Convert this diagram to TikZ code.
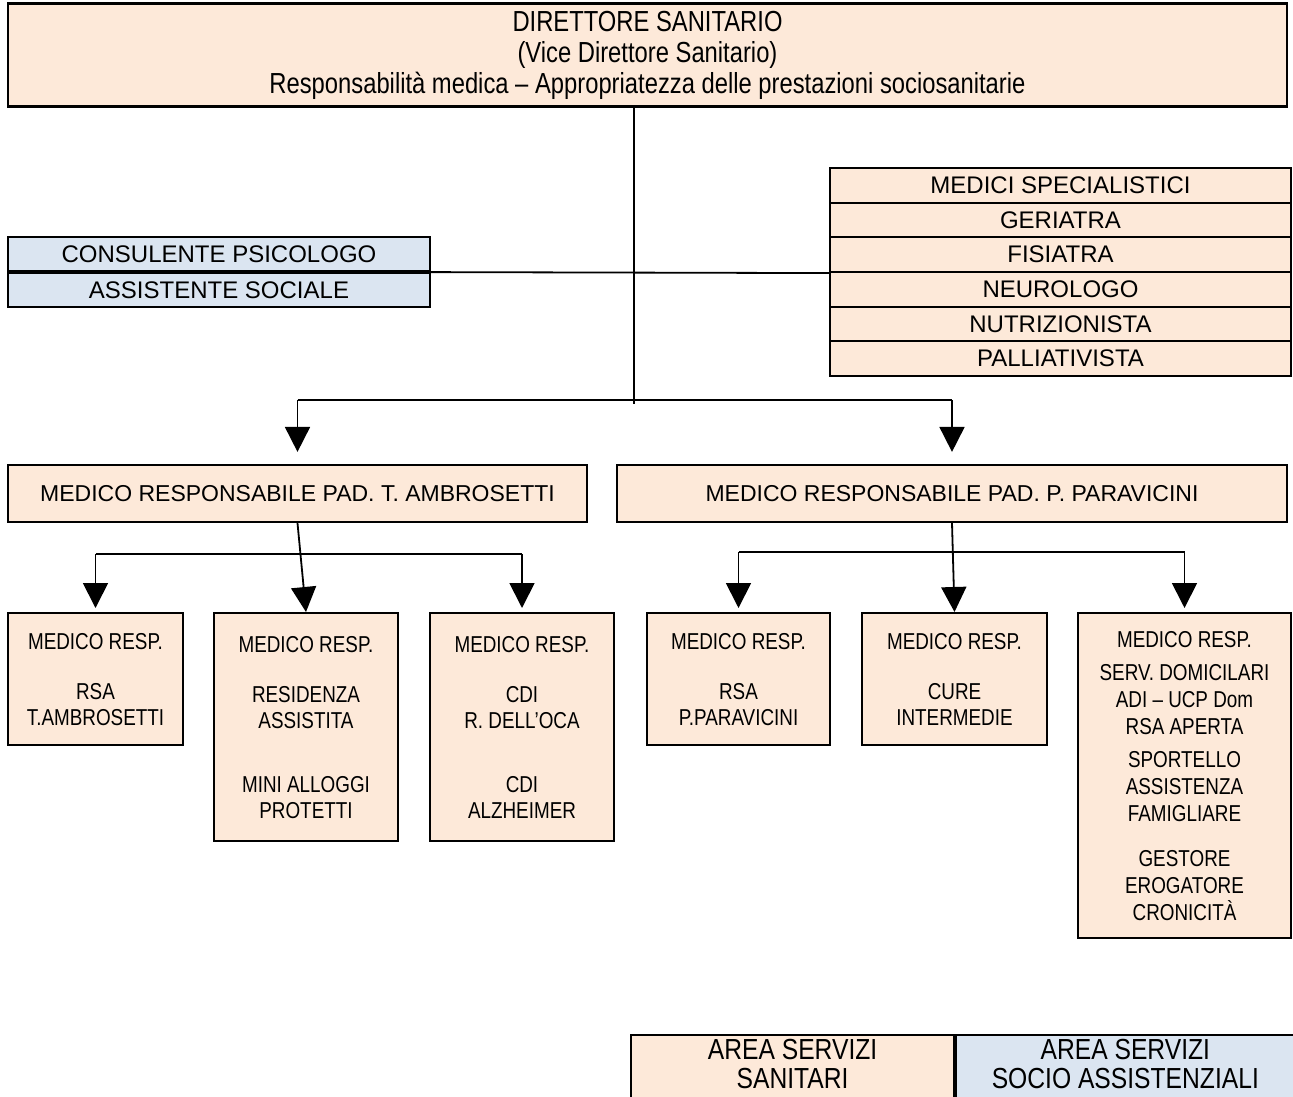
\documentclass[tikz,border=0pt]{standalone}
\usepackage{fontspec}
\setmainfont{Liberation Sans}
\newfontfamily\narrowfont{Liberation Sans}[FakeStretch=0.82]
\newfontfamily\legendfont{Liberation Sans}[FakeStretch=0.85]
\usetikzlibrary{arrows.meta, positioning}

\definecolor{rosa}{HTML}{FDE9D9}
\definecolor{azzurro}{HTML}{DBE5F1}

\tikzset{
  box/.style={draw, line width=2.2pt, fill=rosa, inner sep=0pt, align=center},
  sbox/.style={box, fill=azzurro},
  conn/.style={line width=1.8pt},
  arr/.style={conn, -{Triangle[length=25pt, width=25pt]}},
  topfont/.style={font=\narrowfont\fontsize{29}{31}\selectfont},
  listfont/.style={font=\fontsize{24}{28}\selectfont},
  midfont/.style={font=\fontsize{23}{27}\selectfont},
  smallfont/.style={font=\narrowfont\fontsize{23}{26}\selectfont},
  legfont/.style={font=\legendfont\fontsize{29}{29}\selectfont, text depth=10pt},
}

\begin{document}
\begin{tikzpicture}[x=1pt, y=-1pt]

  \clip (0,0) rectangle (1293,1097);

  \node[box, topfont, minimum width=1279pt, minimum height=103pt] (dir) at (647.5,55)
    {DIRETTORE SANITARIO\\(Vice Direttore Sanitario)\\Responsabilità medica – Appropriatezza delle prestazioni sociosanitarie};

  % staff
  \node[sbox, listfont, minimum width=422pt, minimum height=34pt] (psi) at (219,254) {CONSULENTE PSICOLOGO};
  \node[sbox, listfont, minimum width=422pt, minimum height=34pt, below=0pt of psi] (soc) {ASSISTENTE SOCIALE};

  \foreach \t [count=\i from 0] in {MEDICI SPECIALISTICI, GERIATRA, FISIATRA, NEUROLOGO, NUTRIZIONISTA, PALLIATIVISTA}
    \node[box, listfont, minimum width=461pt, minimum height=34.67pt] (spec\i) at (1060.5,{185.3+34.67*\i}) {\t};

  % padiglioni
  \node[box, midfont, minimum width=579pt, minimum height=57pt] (pada) at (297.5,493.5) {MEDICO RESPONSABILE PAD. T. AMBROSETTI};
  \node[box, midfont, minimum width=670pt, minimum height=57pt] (padp) at (952,493.5) {MEDICO RESPONSABILE PAD. P. PARAVICINI};

  % servizi
  \node[box, smallfont, anchor=north, minimum width=175pt, minimum height=132pt] (b1) at (95.5,612)
    {MEDICO RESP.\\[24pt]RSA\\T.AMBROSETTI};
  \node[box, smallfont, anchor=north, minimum width=184pt, minimum height=228pt] (b2) at (306,612)
    {MEDICO RESP.\\[24pt]RESIDENZA\\ASSISTITA\\[38pt]MINI ALLOGGI\\PROTETTI};
  \node[box, smallfont, anchor=north, minimum width=184pt, minimum height=228pt] (b3) at (522,612)
    {MEDICO RESP.\\[24pt]CDI\\R. DELL’OCA\\[38pt]CDI\\ALZHEIMER};
  \node[box, smallfont, anchor=north, minimum width=183pt, minimum height=132pt] (b4) at (738.5,612)
    {MEDICO RESP.\\[24pt]RSA\\P.PARAVICINI};
  \node[box, smallfont, anchor=north, minimum width=185pt, minimum height=132pt] (b5) at (954.5,612)
    {MEDICO RESP.\\[24pt]CURE\\INTERMEDIE};
  \node[box, smallfont, anchor=north, minimum width=213pt, minimum height=325pt] (b6) at (1184.5,612)
    {MEDICO RESP.\\[7pt]SERV. DOMICILARI\\[1pt]ADI – UCP Dom\\[1pt]RSA APERTA\\[7pt]SPORTELLO\\[1pt]ASSISTENZA\\[1pt]FAMIGLIARE\\[19pt]GESTORE\\[1pt]EROGATORE\\[1pt]CRONICITÀ};

  % legenda
  \node[box, legfont, anchor=north west, minimum width=323pt, minimum height=68pt] (sanit) at (630,1034) {AREA SERVIZI\\SANITARI};
  \node[sbox, legfont, minimum width=338pt, minimum height=68pt, right=0pt of sanit] (socio) {AREA SERVIZI\\SOCIO ASSISTENZIALI};

  % collegamenti
  \coordinate (jc) at (634,404);
  \coordinate (jt) at (634,400);
  \coordinate (jl) at (0,554);
  \coordinate (jr) at (0,552);

  \draw[conn] (jc |- dir.south) -- (jc);
  \draw[conn] (psi.south east) -- (spec2.south west);

  \draw[conn] (jt -| pada.north) -- (jt -| padp.north);
  \draw[arr, shorten >=12pt] (jt -| pada.north) -- (pada.north);
  \draw[arr, shorten >=12pt] (jt -| padp.north) -- (padp.north);

  \draw[conn] (jl -| b1.north) -- (jl -| b3.north);
  \draw[arr, shorten >=4pt] (jl -| b1.north) -- (b1.north);
  \draw[arr] (pada.south) -- (b2.north);
  \draw[arr, shorten >=4pt] (jl -| b3.north) -- (b3.north);

  \draw[conn] (jr -| b4.north) -- (jr -| b6.north);
  \draw[arr, shorten >=4pt] (jr -| b4.north) -- (b4.north);
  \draw[arr] (padp.south) -- (b5.north);
  \draw[arr, shorten >=4pt] (jr -| b6.north) -- (b6.north);

\end{tikzpicture}
\end{document}
